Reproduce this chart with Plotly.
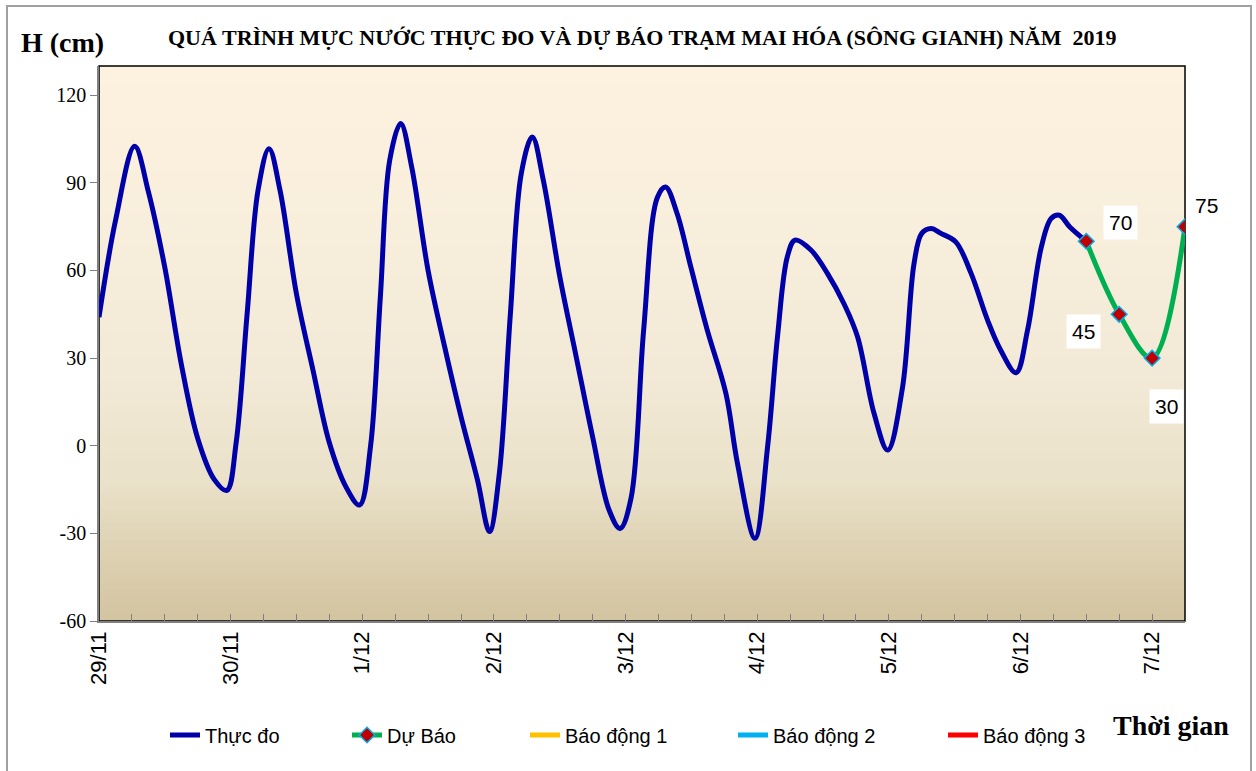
import plotly.graph_objects as go

# ---------------- data ----------------
obs_hours = [0, 3, 6.5, 9, 12, 15, 18, 21, 23.3, 25, 27, 29, 31, 33, 36, 39, 42, 45, 47.5,
             49.5, 51.3, 53, 55, 57, 60, 63, 66, 69, 71.2, 73, 75, 77, 79, 81, 84, 87, 90,
             93, 95, 97, 99.3, 101.8, 103.3, 105.4, 107.9, 110.9, 114.3, 116.4, 119.6,
             121.9, 123.7, 125.5, 126.9, 129.8, 132.8, 135.8, 138.3, 141.3, 143.8, 146.5,
             148.6, 150, 151.7, 153.5, 156.2, 159, 162, 164.4, 167.2, 169.3, 171.8, 173.6,
             175.1, 177, 180]
obs_values = [44, 77, 102.5, 87, 61, 28, 2.5, -11.5, -15.3, 1, 45, 87.5, 101.7, 87.5, 52, 26, 1,
              -14, -20.3, -0.3, 51, 97.7, 110.3, 95.5, 60, 34, 10, -11.7, -29.4, -9.3, 45, 93.3,
              105.7, 91, 58, 30.5, 3, -22, -28.3, -18, 39.6, 85, 88.6, 79.5, 61.2, 39.6, 17.9,
              -6, -31.7, -0.3, 37.3, 64.7, 70.4, 67, 59, 48.7, 37.3, 11.1, -1.5, 20, 62.4, 72.7,
              74.4, 72.7, 69.8, 59, 43, 32.7, 25, 39.6, 68, 77.8, 78.9, 74.9, 70]

fc_hours = [180, 186, 192, 198]
fc_values = [70, 45, 30, 75]

date_labels = ["29/11", "30/11", "1/12", "2/12", "3/12", "4/12", "5/12", "6/12", "7/12"]
y_ticks = [-60, -30, 0, 30, 60, 90, 120]
y_ticktext = ["-60", "-30", "0", "30", "60", "90", "120"]

legend_names = ["Thực đo", "Dự Báo", "Báo động 1", "Báo động 2", "Báo động 3"]
alarm_colors = ["#FFC000", "#00B0F0", "#FF0000"]

title_text = "QUÁ TRÌNH MỰC NƯỚC THỰC ĐO VÀ DỰ BÁO TRẠM MAI HÓA (SÔNG GIANH) NĂM  2019"

# ---------------- figure ----------------
W, H = 1256, 771
ML, MT, PW, PH = 99, 66, 1086, 555
MR = W - ML - PW
MB = H - MT - PH

def px_x(sx):
    return (sx - ML) / PW

def px_y(sy):
    return (MT + PH - sy) / PH

fig = go.Figure()

fig.add_trace(go.Scatter(
    x=obs_hours, y=obs_values, mode="lines", name=legend_names[0], legend="legend",
    line=dict(color="#0000A8", width=5, shape="spline", smoothing=1.0),
))
fig.add_trace(go.Scatter(
    x=fc_hours, y=fc_values, mode="lines+markers", name=legend_names[1], legend="legend2",
    line=dict(color="#00B050", width=5, shape="spline", smoothing=1.0),
    marker=dict(symbol="diamond", size=12, color="#C00000",
                line=dict(color="#00B0F0", width=1.5)),
))
for i, (nm, col) in enumerate(zip(legend_names[2:], alarm_colors)):
    fig.add_trace(go.Scatter(x=[None], y=[None], mode="lines", name=nm, legend="legend%d" % (i + 3),
                             line=dict(color=col, width=5)))

# data labels for forecast
label_shift = [(34, 19), (-36, -17), (14, -48), (21, 21)]
for (hx, v), (dx, dy) in zip(zip(fc_hours, fc_values), label_shift):
    fig.add_annotation(x=hx, y=v, text=str(v), showarrow=False, xshift=dx, yshift=dy,
                       bgcolor="white", borderpad=5,
                       font=dict(family="Liberation Sans, Arial", size=21, color="black"))

# gradient background of the plot area
stops = [(0.0, (0xD3, 0xC4, 0xA0)), (0.12, (0xDD, 0xD1, 0xB2)), (0.25, (0xEA, 0xE1, 0xC9)),
         (0.45, (0xF2, 0xEA, 0xD7)), (0.7, (0xF7, 0xEE, 0xDB)), (1.0, (0xFD, 0xF2, 0xDF))]

def col_at(t):
    for (t0, c0), (t1, c1) in zip(stops[:-1], stops[1:]):
        if t0 <= t <= t1:
            f = (t - t0) / (t1 - t0)
            c = [round(a + (b - a) * f) for a, b in zip(c0, c1)]
            return "rgb(%d,%d,%d)" % tuple(c)
    return "rgb(%d,%d,%d)" % stops[-1][1]

N = 90
for i in range(N):
    y0, y1 = i / N, (i + 1) / N
    fig.add_shape(type="rect", xref="paper", yref="paper", x0=0, x1=1, y0=y0, y1=y1 + 0.002,
                  fillcolor=col_at((y0 + y1) / 2), line=dict(width=0), layer="below")
# plot-area frame (black top/right)
fig.add_shape(type="rect", xref="paper", yref="paper", x0=0, x1=1, y0=0, y1=1,
              line=dict(color="black", width=1.5), layer="below")
# outer chart border
fig.add_shape(type="rect", xref="paper", yref="paper",
              x0=px_x(7), x1=px_x(1251), y0=px_y(790), y1=px_y(6),
              line=dict(color="#A0A0A0", width=2), layer="below")

# titles
serif = "Liberation Serif, Times New Roman"
for txt, sx, sy, sz in [(title_text, 642, 37, 22), ("H (cm)", 62, 42, 28), ("Thời gian", 1171, 725, 28)]:
    fig.add_annotation(xref="paper", yref="paper", x=px_x(sx), y=px_y(sy), text="<b>" + txt + "</b>",
                       xanchor="center", yanchor="middle", showarrow=False,
                       font=dict(family=serif, size=sz, color="black"))

tickvals = list(range(0, 199, 6))
ticktext = [date_labels[v // 24] if v % 24 == 0 else "" for v in tickvals]

legend_text_x = [205, 387, 565, 773, 983]
legend_common = dict(orientation="h", yanchor="middle", xanchor="left",
                     font=dict(family="Liberation Sans, Arial", size=20, color="black"),
                     bgcolor="rgba(0,0,0,0)")
legends = {}
for i, tx in enumerate(legend_text_x):
    key = "legend" if i == 0 else "legend%d" % (i + 1)
    legends[key] = dict(x=px_x(tx - 40), y=px_y(735), **legend_common)

fig.update_layout(
    width=W, height=H,
    margin=dict(l=ML, r=MR, t=MT, b=MB),
    paper_bgcolor="white", plot_bgcolor="rgba(0,0,0,0)",
    showlegend=True,
    xaxis=dict(range=[0, 198], showgrid=False, zeroline=False, showline=True, linecolor="#808080",
               linewidth=1.5, ticks="inside", ticklen=7, tickcolor="#808080",
               tickvals=tickvals, ticktext=ticktext, tickangle=-90,
               tickfont=dict(family="Liberation Sans, Arial", size=22, color="black")),
    yaxis=dict(range=[-60, 130], showgrid=False, zeroline=False, showline=True, linecolor="#808080",
               linewidth=1.5, ticks="outside", ticklen=7, tickcolor="#808080",
               tickvals=y_ticks, ticktext=y_ticktext,
               tickfont=dict(family=serif, size=20, color="black")),
    **legends,
)

fig.write_html("out.html", config={"displayModeBar": False},
               post_script="document.body.style.margin='0';document.body.style.overflow='hidden';")
